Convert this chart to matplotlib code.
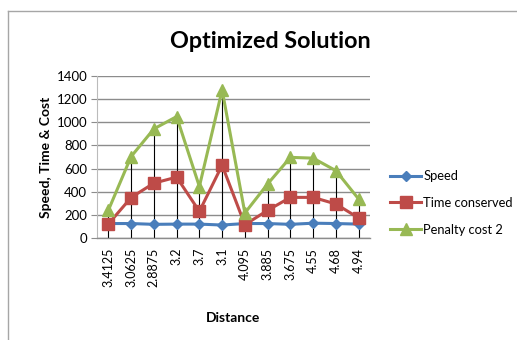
import matplotlib
matplotlib.use("Agg")
import matplotlib.pyplot as plt
from matplotlib.lines import Line2D
import numpy as np

plt.rcParams['font.family'] = ['Lato', 'DejaVu Sans']

distance = ["3.4125", "3.0625", "2.8875", "3.2", "3.7", "3.1",
            "4.095", "3.885", "3.675", "4.55", "4.68", "4.94"]
speed = [125, 125, 118, 120, 120, 112, 125, 125, 118, 128, 125, 120]
time_conserved = [121, 350, 474, 526, 230, 629, 115, 239, 351, 351, 294, 173]
penalty_cost = [240, 704, 943, 1049, 445, 1279, 216, 467, 697, 690, 582, 337]

series_names = ["Speed", "Time conserved", "Penalty cost 2"]
colors = ["#4A7EBB", "#BE4B48", "#98B954"]
markers = ["D", "s", "^"]
msizes = [5, 8.5, 8.5]

fig = plt.figure(figsize=(5.17, 3.40), dpi=100)
ax = fig.add_axes([97 / 517, 1 - 238 / 340, 273 / 517, 162 / 340])

x = np.arange(len(distance))

# gridlines
ax.set_ylim(0, 1400)
ax.set_xlim(-0.5, len(distance) - 0.5)
ax.set_yticks(np.arange(0, 1401, 200))
ax.yaxis.grid(True, color="#8C8C8C", linewidth=1.0)
ax.set_axisbelow(True)

# drop lines from the highest point of each category
tops = np.max(np.vstack([speed, time_conserved, penalty_cost]), axis=0)
ax.vlines(x, 0, tops, colors="black", linewidth=0.8, zorder=2)

for vals, name, c, m, ms in zip([speed, time_conserved, penalty_cost],
                                series_names, colors, markers, msizes):
    ax.plot(x, vals, color=c, marker=m, markersize=ms, linewidth=2.2,
            label=name, zorder=3, markeredgecolor=c)

ax.set_xticks(x)
ax.set_xticklabels(distance, rotation=90, fontsize=9)
ax.tick_params(axis="x", length=0, pad=7)
ax.tick_params(axis="y", length=4, color="#8C8C8C", labelsize=9.5, pad=3)

for s in ["top", "right"]:
    ax.spines[s].set_visible(False)
ax.spines["left"].set_color("#BBBBBB")
ax.spines["bottom"].set_color("#8C8C8C")
ax.spines["bottom"].set_linewidth(1.0)

ax.set_xlabel("Distance", fontsize=10, fontweight="bold", labelpad=18)
ax.set_ylabel("Speed, Time & Cost", fontsize=10, fontweight="bold", labelpad=3)

fig.text(270 / 517, 1 - 42 / 340, "Optimized Solution", fontsize=16.8,
         fontweight="bold", ha="center", va="center")

leg = ax.legend(loc="center left", bbox_to_anchor=(1.055, 0.216), frameon=False,
                fontsize=9.3, handlelength=2.4, labelspacing=1.15,
                handletextpad=0.15, borderaxespad=0.0)

# chart frame
fig.add_artist(Line2D([8 / 517, 8 / 517], [0, 1 - 11 / 340],
                      color="#A6A6A6", linewidth=1.0))
fig.add_artist(Line2D([8 / 517, 1], [1 - 11 / 340, 1 - 11 / 340],
                      color="#A6A6A6", linewidth=1.0))

fig.savefig("out.png", dpi=100)
